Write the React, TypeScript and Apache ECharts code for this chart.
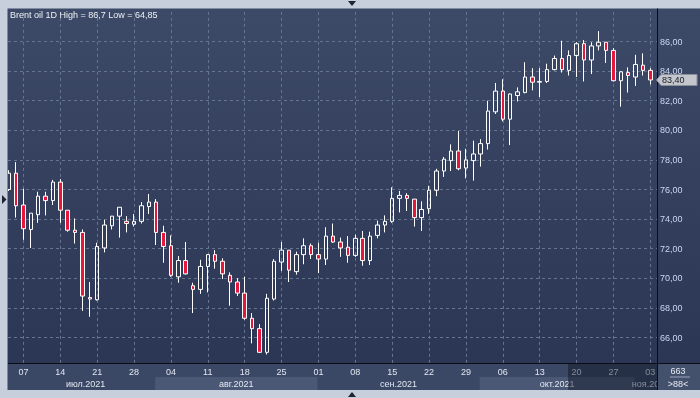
import React, { useEffect, useRef } from "react";
import * as echarts from "echarts";

// Trading days (weekdays) shown on the chart
const dates: string[] = [
  "2021-07-05", "2021-07-06", "2021-07-07", "2021-07-08", "2021-07-09",
  "2021-07-12", "2021-07-13", "2021-07-14", "2021-07-15", "2021-07-16",
  "2021-07-19", "2021-07-20", "2021-07-21", "2021-07-22", "2021-07-23",
  "2021-07-26", "2021-07-27", "2021-07-28", "2021-07-29", "2021-07-30",
  "2021-08-02", "2021-08-03", "2021-08-04", "2021-08-05", "2021-08-06",
  "2021-08-09", "2021-08-10", "2021-08-11", "2021-08-12", "2021-08-13",
  "2021-08-16", "2021-08-17", "2021-08-18", "2021-08-19", "2021-08-20",
  "2021-08-23", "2021-08-24", "2021-08-25", "2021-08-26", "2021-08-27",
  "2021-08-30", "2021-08-31",
  "2021-09-01", "2021-09-02", "2021-09-03",
  "2021-09-06", "2021-09-07", "2021-09-08", "2021-09-09", "2021-09-10",
  "2021-09-13", "2021-09-14", "2021-09-15", "2021-09-16", "2021-09-17",
  "2021-09-20", "2021-09-21", "2021-09-22", "2021-09-23", "2021-09-24",
  "2021-09-27", "2021-09-28", "2021-09-29", "2021-09-30",
  "2021-10-01",
  "2021-10-04", "2021-10-05", "2021-10-06", "2021-10-07", "2021-10-08",
  "2021-10-11", "2021-10-12", "2021-10-13", "2021-10-14", "2021-10-15",
  "2021-10-18", "2021-10-19", "2021-10-20", "2021-10-21", "2021-10-22",
  "2021-10-25", "2021-10-26", "2021-10-27", "2021-10-28", "2021-10-29",
  "2021-11-01", "2021-11-02", "2021-11-03",
];

const opens: number[] = [
  76.0, 77.1, 74.95, 73.3, 74.3, 75.55, 75.25, 76.5, 74.6, 73.25,
  73.1, 68.7, 68.55, 72.05, 73.55, 74.2, 73.85, 73.65, 73.85, 74.85,
  75.15, 73.1, 72.2, 70.1, 71.2, 69.5, 69.25, 70.8, 71.6, 71.15,
  70.2, 69.75, 69.0, 67.3, 66.6, 65.0, 68.6, 71.1, 71.9, 70.45,
  71.6, 72.2, 71.6, 71.3, 72.85, 72.45, 72.1, 71.55, 72.7, 71.2,
  72.9, 73.6, 73.85, 75.4, 75.6, 75.35, 74.1, 74.7, 75.95, 77.25,
  77.95, 78.6, 77.45, 77.95, 78.4, 79.1, 81.25, 82.65, 80.75, 82.35,
  82.55, 83.6, 83.25, 83.3, 84.1, 84.85, 84.05, 85.05, 85.85, 84.75,
  85.7, 85.95, 85.4, 83.35, 83.9, 83.6, 84.4, 84.05,
];
const closes: number[] = [
  77.1, 74.9, 73.35, 74.4, 75.55, 75.25, 76.5, 74.6, 73.25, 73.1,
  68.8, 68.6, 72.15, 73.6, 74.2, 74.8, 73.7, 73.85, 74.9, 75.15,
  73.1, 72.15, 70.2, 71.2, 70.3, 69.25, 70.8, 71.6, 71.15, 70.3,
  69.75, 69.0, 67.3, 66.6, 65.0, 68.65, 71.15, 71.9, 70.55, 71.6,
  72.2, 71.6, 71.3, 72.85, 72.45, 72.05, 71.55, 72.7, 71.2, 72.85,
  73.6, 73.85, 75.4, 75.6, 75.4, 74.1, 74.65, 75.95, 77.25, 78.05,
  78.6, 77.4, 78.0, 78.4, 79.1, 81.3, 82.65, 80.75, 82.45, 82.6,
  83.6, 83.25, 83.3, 84.1, 84.85, 84.1, 85.05, 85.85, 84.75, 85.7,
  85.95, 85.4, 83.35, 83.95, 83.7, 84.45, 84.05, 83.4,
];
const lows: number[] = [
  75.9, 74.1, 72.6, 72.05, 73.75, 74.25, 74.95, 73.75, 73.15, 72.35,
  67.8, 67.4, 68.5, 71.75, 73.3, 72.75, 73.1, 73.5, 73.7, 74.35,
  72.25, 71.05, 70.1, 69.7, 70.25, 67.65, 68.95, 69.05, 70.65, 69.95,
  68.15, 68.8, 67.2, 65.6, 64.95, 64.85, 68.5, 70.5, 69.75, 70.25,
  70.95, 71.3, 70.35, 70.9, 72.4, 71.45, 71.05, 71.45, 70.85, 70.9,
  72.7, 73.1, 73.75, 74.45, 74.55, 73.5, 73.2, 74.35, 75.55, 76.85,
  77.25, 77.3, 76.75, 76.6, 77.55, 78.7, 81.1, 80.6, 79.0, 81.95,
  82.5, 82.7, 82.25, 83.2, 84.05, 83.9, 83.7, 83.6, 83.3, 83.8,
  85.4, 84.55, 83.3, 81.6, 82.55, 83.0, 83.7, 83.1,
];
const highs: number[] = [
  77.3, 77.85, 76.05, 74.4, 75.85, 75.85, 76.65, 76.7, 74.6, 74.05,
  73.3, 69.75, 72.4, 73.95, 74.2, 74.8, 74.2, 74.35, 75.15, 75.7,
  75.35, 73.55, 72.9, 71.5, 72.45, 69.7, 71.25, 71.6, 71.9, 71.35,
  70.4, 70.0, 70.1, 67.65, 66.9, 68.95, 71.3, 72.45, 71.9, 71.8,
  72.7, 72.35, 72.4, 73.45, 73.7, 72.75, 72.85, 72.95, 73.2, 73.15,
  73.9, 74.25, 76.15, 75.9, 75.75, 75.35, 75.2, 76.25, 77.4, 78.2,
  79.05, 79.95, 78.75, 79.3, 79.4, 82.0, 83.2, 83.45, 82.5, 82.9,
  84.6, 84.2, 84.2, 84.5, 85.05, 86.05, 85.4, 85.95, 86.1, 85.95,
  86.7, 85.95, 85.55, 84.0, 84.25, 85.1, 85.2, 84.2,
];

const monthKeys: string[] = ["2021-07", "2021-08", "2021-09", "2021-10", "2021-11"];
const monthLabels: string[] = ["июл.2021", "авг.2021", "сен.2021", "окт.2021", "ноя.2021"];

const FONT = "'Liberation Sans', Arial, sans-serif";
const fmt = (v: number, d?: number) =>
  (d === undefined ? String(v) : v.toFixed(d)).replace(".", ",");

const isWed = (i: number) =>
  new Date(dates[i] + "T00:00:00Z").getUTCDay() === 3;

export default function App() {
  const ref = useRef<HTMLDivElement>(null);

  useEffect(() => {
    if (!ref.current) return;
    const chart = echarts.init(ref.current, null, { renderer: "svg" });
    const dash = { color: "#65748f", width: 1, type: [3, 3] as any };
    const candles = dates.map((_, i) => [opens[i], closes[i], lows[i], highs[i]]);

    chart.setOption({
      animation: false,
      grid: [
        { left: 8, right: 43, top: 11.9, bottom: 30.9 },
        { left: 8.65, right: 49.7, top: 11.9, bottom: 30.9 },
      ],
      xAxis: [
        { gridIndex: 0, type: "value", min: 0, max: 1, show: false },
        {
          gridIndex: 1,
          type: "category",
          data: dates,
          boundaryGap: false,
          axisLine: { show: false },
          axisTick: { show: false },
          axisLabel: { show: false },
          splitLine: { show: true, interval: (i: number) => isWed(i), lineStyle: dash },
        },
        {
          gridIndex: 1,
          type: "category",
          data: dates,
          position: "bottom",
          boundaryGap: false,
          z: 60,
          axisLine: { show: false },
          axisTick: { show: false },
          splitLine: { show: false },
          axisLabel: {
            interval: (i: number) => isWed(i),
            formatter: (v: string) => v.slice(8, 10),
            color: "#e2e7f0",
            fontSize: 9,
            fontFamily: FONT,
            margin: 0,
          },
        },
      ],
      yAxis: [
        {
          gridIndex: 0,
          type: "value",
          position: "right",
          min: 64,
          max: 88,
          interval: 2,
          axisLine: { show: false },
          axisTick: { show: false },
          splitLine: { show: true, showMinLine: false, showMaxLine: false, lineStyle: dash },
          axisLabel: {
            formatter: (v: number) => fmt(v, 2),
            showMinLabel: false,
            showMaxLabel: false,
            color: "#cbd7ee",
            fontSize: 9,
            fontFamily: FONT,
            margin: 3,
          },
        },
        { gridIndex: 1, type: "value", min: 64, max: 88, show: false },
      ],
      series: [
        {
          type: "candlestick",
          xAxisIndex: 1,
          yAxisIndex: 1,
          data: candles,
          barWidth: 4,
          itemStyle: {
            color: "rgba(0,0,0,0)",
            color0: "#e4173d",
            borderColor: "#ffffff",
            borderColor0: "#ffffff",
            borderWidth: 1,
          },
        },
      ],
    });

    const xp = (i: number) => chart.convertToPixel({ xAxisIndex: 1 }, i) as number;
    const yp = (v: number) => chart.convertToPixel({ yAxisIndex: 1 }, v) as number;

    const L = 8, T = 8.5, R = 657, B = 363, SB = 390, W = 700;
    const g: any[] = [];
    g.push({ type: "rect", z: -20, silent: true, shape: { x: 0, y: 0, width: W, height: 398 }, style: { fill: "#c6cfdb" } });
    g.push({
      type: "rect", z: -10, silent: true,
      shape: { x: L, y: T, width: W - L, height: SB - T },
      style: {
        fill: new echarts.graphic.LinearGradient(0, 0, 0, 1, [
          { offset: 0, color: "#3c4967" },
          { offset: 1, color: "#2a3553" },
        ]),
      },
    });
    // left border strip over the first, cut candle
    g.push({ type: "rect", z: 88, silent: true, shape: { x: 0, y: T, width: L, height: SB - T }, style: { fill: "#c6cfdb" } });
    g.push({ type: "line", z: 88, silent: true, shape: { x1: L - 0.5, y1: T, x2: L - 0.5, y2: SB }, style: { stroke: "#7f8aa0", lineWidth: 1 } });
    // bottom time strip
    g.push({ type: "rect", z: 50, silent: true, shape: { x: L, y: B, width: R - L, height: SB - B }, style: { fill: "#3a4765" } });
    // month bands and labels
    const firsts = monthKeys.map((k) => dates.findIndex((d) => d.startsWith(k)));
    firsts.forEach((fi, m) => {
      const x0 = Math.max(L, xp(fi) - 1);
      const x1 = m + 1 < firsts.length ? xp(firsts[m + 1]) - 1 : R;
      if (m % 2 === 1) {
        g.push({ type: "rect", z: 51, silent: true, shape: { x: x0, y: 377, width: x1 - x0, height: SB - 377 }, style: { fill: "#4b5875" } });
      }
      const cx = m === 0 ? (x0 + x1) / 2 + 4 : m === firsts.length - 1 ? x0 + 16 : (x0 + x1) / 2;
      g.push({
        type: "text", z: 61, silent: true, x: cx, y: 383.5,
        style: { text: monthLabels[m], fill: "#e2e7f0", font: `9px ${FONT}`, align: "center", verticalAlign: "middle", textAlign: "center", textVerticalAlign: "middle" },
      });
    });
    // dark overlay over the last part of the strip
    g.push({ type: "rect", z: 70, silent: true, shape: { x: 568, y: B, width: R - 568, height: SB - B }, style: { fill: "rgba(14,20,36,0.45)" } });
    // right-bottom cell
    g.push({ type: "rect", z: 80, silent: true, shape: { x: R, y: B, width: W - R, height: SB - B }, style: { fill: "#44516d" } });
    g.push({ type: "text", z: 81, silent: true, x: 678, y: 370.5, style: { text: "663", fill: "#e8ecf4", font: `9px ${FONT}`, align: "center", verticalAlign: "middle", textAlign: "center", textVerticalAlign: "middle" } });
    g.push({ type: "line", z: 81, silent: true, shape: { x1: 670, y1: 377, x2: 690, y2: 377 }, style: { stroke: "#9aa6bd", lineWidth: 1 } });
    g.push({ type: "text", z: 81, silent: true, x: 678, y: 383.5, style: { text: ">88<", fill: "#e8ecf4", font: `9px ${FONT}`, align: "center", verticalAlign: "middle", textAlign: "center", textVerticalAlign: "middle" } });
    // black frame lines
    g.push({ type: "line", z: 85, silent: true, shape: { x1: L, y1: B + 0.5, x2: W, y2: B + 0.5 }, style: { stroke: "#0a0d14", lineWidth: 1 } });
    g.push({ type: "line", z: 85, silent: true, shape: { x1: R + 0.5, y1: T, x2: R + 0.5, y2: SB }, style: { stroke: "#0a0d14", lineWidth: 1 } });
    // triangles in the border
    g.push({ type: "polygon", z: 90, silent: true, shape: { points: [[348, 1], [356, 1], [352, 6]] }, style: { fill: "#1c2333" } });
    g.push({ type: "polygon", z: 90, silent: true, shape: { points: [[348, 397], [356, 397], [352, 392]] }, style: { fill: "#1c2333" } });
    g.push({ type: "polygon", z: 90, silent: true, shape: { points: [[2, 195], [2, 204], [6.5, 199.5]] }, style: { fill: "#1c2333" } });
    // title
    const hi = Math.max(...highs);
    const lo = Math.min(...lows);
    g.push({
      type: "text", z: 90, silent: true, x: 10, y: 15,
      style: { text: `Brent oil 1D High = ${fmt(hi)} Low = ${fmt(lo)}`, fill: "#eef1f6", font: `9px ${FONT}`, align: "left", verticalAlign: "middle", textAlign: "left", textVerticalAlign: "middle" },
    });
    // last price label
    const last = closes[closes.length - 1];
    const py = yp(last);
    g.push({ type: "polygon", z: 90, silent: true, shape: { points: [[656.5, py], [661, py - 5.5], [697, py - 5.5], [697, py + 5.5], [661, py + 5.5]] }, style: { fill: "#c3c6cc", stroke: "#8c9099", lineWidth: 1 } });
    g.push({ type: "text", z: 91, silent: true, x: 662, y: py, style: { text: fmt(last, 2), fill: "#1a1c22", font: `9px ${FONT}`, align: "left", verticalAlign: "middle", textAlign: "left", textVerticalAlign: "middle" } });

    chart.setOption({ graphic: g });

    return () => chart.dispose();
  }, []);

  return (
    <div
      ref={ref}
      style={{ position: "fixed", left: 0, top: 0, width: 700, height: 398 }}
    />
  );
}
